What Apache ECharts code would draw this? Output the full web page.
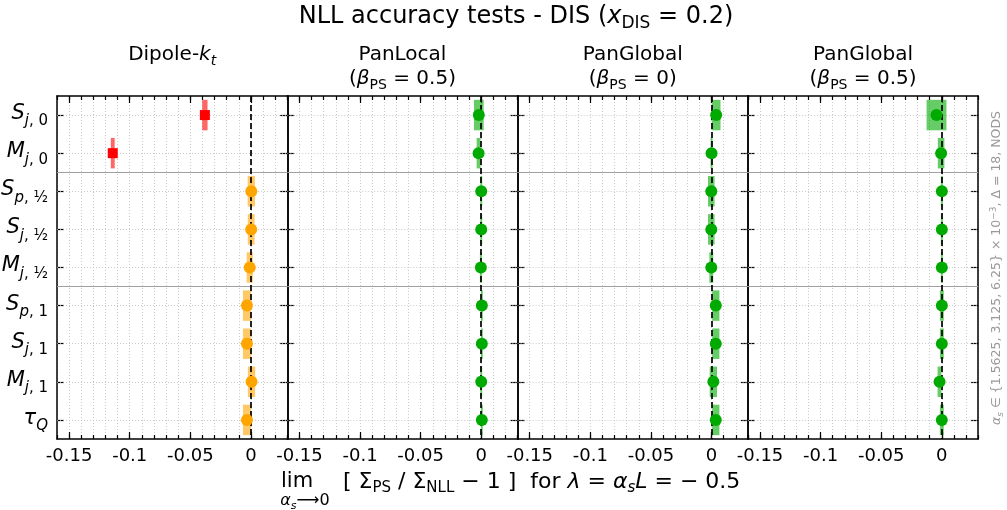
<!DOCTYPE html>
<html><head><meta charset="utf-8">
<script src="https://cdn.jsdelivr.net/npm/echarts@6/dist/echarts.min.js"></script>
<style>html,body{margin:0;padding:0;background:#fff}#c{width:1007px;height:510px}</style>
</head><body><div id="c"></div>
<script>
// ---------- data ----------
const rowLetters  = ['S', 'M', 'S', 'S', 'M', 'S', 'S', 'M', 'τ'];
const rowSubItal  = ['j', 'j', 'p', 'j', 'j', 'p', 'j', 'j', 'Q'];
const rowSubRest  = [', 0', ', 0', ', ½', ', ½', ', ½', ', 1', ', 1', ', 1', ''];
const rowIndex    = [0, 1, 2, 3, 4, 5, 6, 7, 8];
const groupSeparators = [1.5, 4.5];
const xTickValues = [-0.15, -0.1, -0.05, 0];

const dipoleValues = [-0.038, -0.114, 0.0003, 0.0002, -0.001, -0.0033, -0.0033, 0.0005, -0.0033];
const dipoleErrors = [0.0022, 0.0016, 0.003, 0.0028, 0.0025, 0.0033, 0.0033, 0.003, 0.0033];
const dipoleFailed = [true, true, false, false, false, false, false, false, false];

const panLocalValues = [-0.002, -0.0022, 0.0, 0.0, -0.0003, 0.0005, 0.0005, 0.0, 0.0005];
const panLocalErrors = [0.004, 0.0016, 0.0008, 0.0008, 0.0008, 0.0008, 0.0008, 0.0008, 0.0008];

const panGlobal0Values = [0.0038, 0.0, -0.0002, -0.0002, -0.0002, 0.0035, 0.0035, 0.0015, 0.0035];
const panGlobal0Errors = [0.0036, 0.0008, 0.0027, 0.0027, 0.0016, 0.003, 0.003, 0.003, 0.003];

const panGlobal05Values = [-0.0044, -0.0006, 0.0, 0.0, 0.0, 0.0, 0.0, -0.0019, 0.0];
const panGlobal05Errors = [0.0082, 0.0027, 0.0008, 0.0008, 0.0008, 0.0016, 0.0016, 0.0016, 0.0016];

const noFail = [false, false, false, false, false, false, false, false, false];

// ---------- layout / style ----------
const FONT = 'DejaVu Sans';
const panelValues = [dipoleValues, panLocalValues, panGlobal0Values, panGlobal05Values];
const panelErrors = [dipoleErrors, panLocalErrors, panGlobal0Errors, panGlobal05Errors];
const panelFailed = [dipoleFailed, noFail, noFail, noFail];
const passColor = ['#ffa500', '#00aa00', '#00aa00', '#00aa00'];
const passBox   = ['rgba(255,165,0,0.6)', 'rgba(0,170,0,0.6)', 'rgba(0,170,0,0.6)', 'rgba(0,170,0,0.6)'];
const failColor = '#ff0000', failBox = 'rgba(255,0,0,0.6)';

const PL = 57, PW = 230.3, PT = 96, PH = 343;
const XMIN = -0.16, XMAX = 0.03;

const grids = [], xAxes = [], yAxes = [], series = [];
const blk = {color: '#000', width: 1.5};
const tickStyle = {color: '#000', width: 1.2};

const labelRich = {
  m:  {fontSize: 21, fontStyle: 'italic', fontFamily: FONT, color: '#000', lineHeight: 24, verticalAlign: 'top'},
  si: {fontSize: 15, fontStyle: 'italic', fontFamily: FONT, color: '#000', lineHeight: 15, verticalAlign: 'top', padding: [11, 0, 0, 0]},
  s:  {fontSize: 15, fontFamily: FONT, color: '#000', lineHeight: 15, verticalAlign: 'top', padding: [11, 0, 0, 0]}
};
function rowLabel(v) {
  const i = Math.round(v);
  let t = '{m|' + rowLetters[i] + '}{si|' + rowSubItal[i] + '}';
  if (rowSubRest[i]) t += '{s|' + rowSubRest[i] + '}';
  return t;
}

for (let g = 0; g < 4; g++) {
  grids.push({left: PL + g * PW, top: PT, width: PW, height: PH, outerBoundsMode: 'none', containLabel: false});
  const base = {gridIndex: g, type: 'value', min: XMIN, max: XMAX};
  // bottom minor + labels + vertical grid
  xAxes.push(Object.assign({}, base, {position: 'bottom', interval: 0.01,
    axisLine: {show: true, onZero: false, lineStyle: blk},
    axisTick: {show: true, inside: true, length: 4, lineStyle: tickStyle},
    axisLabel: {show: true, customValues: xTickValues, fontSize: 18, fontFamily: FONT, color: '#000', margin: 8},
    splitLine: {show: true, lineStyle: {color: '#bdbdbd', type: [1, 2], width: 0.8}}}));
  // bottom major ticks
  xAxes.push(Object.assign({}, base, {position: 'bottom',
    axisLine: {show: false, onZero: false}, axisTick: {show: true, inside: true, length: 7, customValues: xTickValues, lineStyle: tickStyle},
    axisLabel: {show: false}, splitLine: {show: false}}));
  // top minor
  xAxes.push(Object.assign({}, base, {position: 'top', interval: 0.01,
    axisLine: {show: true, onZero: false, lineStyle: blk},
    axisTick: {show: true, inside: true, length: 4, lineStyle: tickStyle},
    axisLabel: {show: false}, splitLine: {show: false}}));
  // top major
  xAxes.push(Object.assign({}, base, {position: 'top',
    axisLine: {show: false, onZero: false}, axisTick: {show: true, inside: true, length: 7, customValues: xTickValues, lineStyle: tickStyle},
    axisLabel: {show: false}, splitLine: {show: false}}));

  const ybase = {gridIndex: g, type: 'value', min: -0.5, max: 8.5, inverse: true, splitLine: {show: false}};
  yAxes.push(Object.assign({}, ybase, {position: 'left',
    axisLine: {show: true, onZero: false, lineStyle: blk},
    axisTick: {show: true, inside: true, length: 7, customValues: rowIndex, lineStyle: tickStyle},
    axisLabel: {show: g === 0, customValues: rowIndex, margin: 9, formatter: rowLabel, rich: labelRich}}));
  yAxes.push(Object.assign({}, ybase, {position: 'right',
    axisLine: {show: true, onZero: false, lineStyle: blk},
    axisTick: {show: true, inside: true, length: 7, customValues: rowIndex, lineStyle: tickStyle},
    axisLabel: {show: false}}));

  const xi = g * 4, yi = g * 2;
  const vals = panelValues[g], errs = panelErrors[g], fails = panelFailed[g];

  // background horizontal grid + separators
  series.push({type: 'line', xAxisIndex: xi, yAxisIndex: yi, data: [], z: 1, silent: true,
    markLine: {z: 1, symbol: ['none', 'none'], silent: true, animation: false, label: {show: false},
      data: rowIndex.map(r => ({yAxis: r, lineStyle: {color: '#bdbdbd', type: [1, 2], width: 0.8}}))
        .concat(groupSeparators.map(s => ({yAxis: s, lineStyle: {color: '#a0a0a0', type: 'solid', width: 1.2}})))}});

  // error boxes
  series.push({type: 'custom', xAxisIndex: xi, yAxisIndex: yi, z: 2, silent: true,
    encode: {x: 0, y: 1},
    data: rowIndex.map(r => [vals[r], r, errs[r], fails[r] ? 1 : 0]),
    renderItem: function (params, api) {
      const x = api.value(0), y = api.value(1), e = api.value(2), f = api.value(3);
      const p1 = api.coord([x - e, y - 0.4]);
      const p2 = api.coord([x + e, y + 0.4]);
      return {type: 'rect',
        shape: {x: Math.min(p1[0], p2[0]), y: Math.min(p1[1], p2[1]), width: Math.abs(p2[0] - p1[0]), height: Math.abs(p2[1] - p1[1])},
        style: {fill: f ? failBox : passBox[g]}};
    }});

  // zero dashed line
  series.push({type: 'line', xAxisIndex: xi, yAxisIndex: yi, data: [], z: 3, silent: true,
    markLine: {z: 3, symbol: ['none', 'none'], silent: true, animation: false, label: {show: false},
      data: [{xAxis: 0}], lineStyle: {color: '#000', type: [6, 3], width: 1.7}}});

  // points
  series.push({type: 'scatter', xAxisIndex: xi, yAxisIndex: yi, z: 6, symbol: 'circle', symbolSize: 12,
    itemStyle: {color: passColor[g], opacity: 1},
    data: rowIndex.filter(r => !fails[r]).map(r => [vals[r], r])});
  series.push({type: 'scatter', xAxisIndex: xi, yAxisIndex: yi, z: 6, symbol: 'rect', symbolSize: 10,
    itemStyle: {color: failColor, opacity: 1},
    data: rowIndex.filter(r => fails[r]).map(r => [vals[r], r])});
}

const txtRich = (fs) => ({
  i:   {fontSize: fs, fontStyle: 'italic', fontFamily: FONT, fill: '#000'},
  sub: {fontSize: Math.round(fs * 0.7), fontFamily: FONT, fill: '#000', verticalAlign: 'top', padding: [Math.round(fs * 0.55), 0, 0, 0]},
  isub:{fontSize: Math.round(fs * 0.7), fontStyle: 'italic', fontFamily: FONT, fill: '#000', verticalAlign: 'top', padding: [Math.round(fs * 0.55), 0, 0, 0]}
});

function txt(x, y, text, fs, align, extra) {
  return Object.assign({type: 'text', x: x, y: y, silent: true,
    style: {text: text, fontSize: fs, fontFamily: FONT, fill: '#000', align: align || 'center', verticalAlign: 'middle',
      lineHeight: Math.round(fs * 1.2), rich: txtRich(fs)}}, extra || {});
}

const pc = g => PL + g * PW + PW / 2;
const graphics = [
  txt(516, 17, 'NLL accuracy tests - DIS ({i|x}{sub|DIS} = 0.2)', 24),
  txt(pc(0), 55, 'Dipole-{i|k}{isub|t}', 20),
  txt(pc(1), 67, 'PanLocal\n({i|β}{sub|PS} = 0.5)', 20),
  txt(pc(2), 67, 'PanGlobal\n({i|β}{sub|PS} = 0)', 20),
  txt(pc(3), 67, 'PanGlobal\n({i|β}{sub|PS} = 0.5)', 20),
  txt(281, 482, 'lim', 21, 'left'),
  txt(305, 501, '{i|α}{isub|s}⟶0', 16),
  txt(343, 482, '[ Σ{sub|PS} / Σ{sub|NLL} − 1 ]  for {i|λ} = {i|α}{isub|s}{i|L} = − 0.5', 22, 'left'),
  {type: 'text', x: 997, y: 268, rotation: Math.PI / 2, silent: true,
    style: {text: '{i|α}{isub|s} ∈ {1.5625, 3.125, 6.25} × 10{sup|−3}, Δ = 18, NODS', fontSize: 12.5, fontFamily: FONT,
      fill: '#999999', align: 'center', verticalAlign: 'middle',
      rich: {
        i: {fontSize: 12.5, fontStyle: 'italic', fontFamily: FONT, fill: '#999999'},
        isub: {fontSize: 9, fontStyle: 'italic', fontFamily: FONT, fill: '#999999', verticalAlign: 'top', padding: [7, 0, 0, 0]},
        sup: {fontSize: 9, fontFamily: FONT, fill: '#999999', verticalAlign: 'top', padding: [0, 0, 5, 0]}
      }}}
];

const chart = echarts.init(document.getElementById('c'), null, {renderer: 'canvas', width: 1007, height: 510});
chart.setOption({
  animation: false,
  backgroundColor: '#fff',
  textStyle: {fontFamily: FONT},
  grid: grids, xAxis: xAxes, yAxis: yAxes, series: series, graphic: graphics
});
</script></body></html>
